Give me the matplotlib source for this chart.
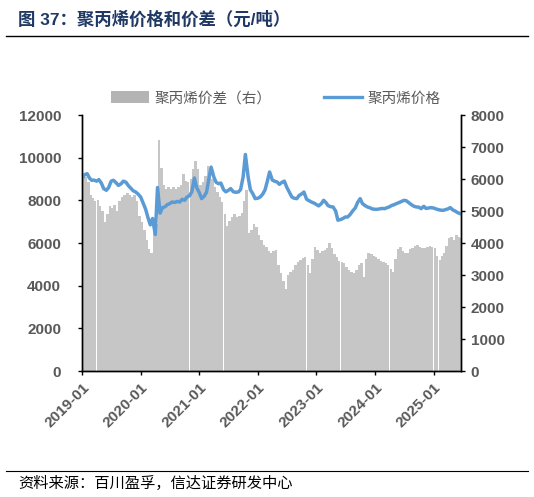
import numpy as np
import pandas as pd
import matplotlib
matplotlib.use('Agg')
import matplotlib.pyplot as plt
from matplotlib.patches import Patch
from matplotlib.lines import Line2D

plt.rcParams['font.family'] = ['Liberation Sans', 'Noto Sans CJK SC', 'DejaVu Sans']
plt.rcParams['axes.unicode_minus'] = False

# semi-monthly samples, 2019-01 .. 2025-06
dates = pd.date_range('2019-01-01', periods=156, freq='SMS')

# 聚丙烯价格 (left axis, 元/吨)
price = [
    9020, 9200, 9250, 9050, 8940, 8950, 8900, 8970, 8800, 8550, 8470, 8600,
    8900, 8940, 8820, 8700, 8780, 8900, 8850, 8700, 8560, 8450, 8390, 8300,
    8155, 7900, 7580, 7200, 6850, 7150, 6400, 8600, 7400, 7650, 7700, 7800,
    7850, 7920, 7900, 7950, 7920, 8050, 8000, 8150, 8220, 8400, 9050, 8600,
    8350, 8080, 8200, 8390, 9000, 9560, 9100, 8850, 8780, 8810, 8500, 8400,
    8470, 8550, 8400, 8380, 8390, 8500, 9100, 10150, 9100, 8500, 8300, 8080,
    8100, 8155, 8300, 8500, 8900, 9330, 8950, 8900, 8860, 8750, 8850, 8900,
    8600, 8400, 8155, 8100, 8080, 8230, 8300, 8390, 8050, 7990, 7920, 7880,
    7800, 7740, 7850, 8000, 7900, 7750, 7700, 7690, 7500, 7070, 7100, 7150,
    7220, 7220, 7350, 7500, 7650, 7900, 8080, 7850, 7750, 7690, 7650, 7600,
    7580, 7580, 7600, 7620, 7610, 7650, 7700, 7760, 7800, 7850, 7900, 7950,
    8000, 7980, 7880, 7800, 7720, 7690, 7680, 7610, 7720, 7620, 7640, 7660,
    7640, 7600, 7560, 7540, 7530, 7560, 7600, 7660, 7550, 7500, 7420, 7380,
]

# 聚丙烯价差 (right axis, 元/吨)
spread = [
    6000, 6050, 5900, 5500, 5400, 5300, 5350, 5150, 5000, 4650, 4900, 5150,
    5100, 5200, 5000, 5300, 5450, 5500, 5550, 5500, 5450, 5500, 5300, 4850,
    4650, 4400, 4100, 3800, 3700, 4500, 4600, 7220, 6350, 5800, 5700, 5750,
    5700, 5750, 5700, 5750, 5800, 6150, 5950, 5900, 6000, 6300, 6550, 6300,
    5800, 5900, 6100, 6400, 6100, 6000, 5750, 5600, 5450, 5290, 4900, 4520,
    4700, 4800, 4900, 4800, 4850, 4950, 5300, 5650, 4300, 4400, 4600, 4500,
    4250, 4080, 3950, 3880, 3750, 3680, 3750, 3780, 3300, 3050, 2800, 2550,
    3000, 3100, 3160, 3300, 3400, 3470, 3520, 3570, 3300, 3050, 3500, 3880,
    3780, 3680, 3750, 3780, 3850, 3990, 3850, 3650, 3570, 3450, 3400, 3360,
    3250, 3150, 3100, 3050, 3150, 3300, 3360, 2950, 3500, 3680, 3650, 3600,
    3570, 3500, 3450, 3400, 3360, 3300, 3200, 3100, 3500, 3800, 3880, 3750,
    3700, 3680, 3800, 3850, 3900, 3940, 3880, 3830, 3850, 3880, 3900, 3880,
    3850, 3600, 3470, 3600, 3700, 3900, 4150, 4200, 4100, 4250, 4200, 4150,
]

tick_dates = pd.date_range('2019-01-01', '2025-01-01', freq='YS')
tick_labels = [d.strftime('%Y-%m') for d in tick_dates]

navy = '#1f3864'
grey_txt = '#595959'
bar_col = '#c6c6c6'
line_col = '#5b9bd5'

fig = plt.figure(figsize=(5.34, 4.97), dpi=100)
ax = fig.add_axes([0.1536, 0.2535, 0.7094, 0.5151])
ax2 = ax.twinx()

ax2.bar(dates, spread, width=16, align='edge', color=bar_col, linewidth=0)
ax.plot(dates, price, color=line_col, linewidth=2.5, solid_joinstyle='round')

# line above bars
ax.set_zorder(ax2.get_zorder() + 1)
ax.patch.set_visible(False)

ax.set_ylim(0, 12000)
ax.set_yticks(np.arange(0, 12001, 2000))
ax2.set_ylim(0, 8000)
ax2.set_yticks(np.arange(0, 8001, 1000))
ax.set_xlim(pd.Timestamp('2018-12-31'), pd.Timestamp('2025-06-20'))
ax.set_xticks(tick_dates)
ax.set_xticklabels(tick_labels, rotation=45, ha='right', rotation_mode='anchor')

for a in (ax, ax2):
    a.spines['top'].set_visible(False)
    for s in ('left', 'right', 'bottom'):
        a.spines[s].set_color('black')
        a.spines[s].set_linewidth(1.0)
    a.tick_params(axis='both', direction='out', length=3, width=1, colors='black',
                  labelcolor=grey_txt, labelsize=11)
    for lb in a.get_yticklabels() + a.get_xticklabels():
        lb.set_fontweight('bold')
ax.tick_params(axis='y', pad=12)
ax.tick_params(axis='x', pad=4)
ax2.tick_params(axis='y', pad=4)

handles = [Patch(facecolor='#b4b4b4', edgecolor='none'),
           Line2D([0], [0], color=line_col, linewidth=2.4)]
fig.legend(handles, ['聚丙烯价差（右）', '聚丙烯价格'], loc='center',
           bbox_to_anchor=(0.517, 0.802), ncol=2, frameon=False, fontsize=10.5,
           labelcolor=grey_txt, handlelength=2.6, handleheight=0.9,
           columnspacing=3.6, handletextpad=0.4)

fig.text(0.034, 0.962, '图 37：聚丙烯价格和价差（元/吨）', color=navy,
         fontsize=12.5, fontweight='bold', va='center', ha='left')
fig.add_artist(Line2D([0.011, 0.989], [0.927, 0.927], color='black', linewidth=1.0))
fig.add_artist(Line2D([0.011, 0.989], [0.053, 0.053], color='black', linewidth=0.8))
fig.text(0.034, 0.028, '资料来源：百川盈孚，信达证券研发中心', color='black',
         fontsize=11, style='italic', va='center', ha='left')

fig.savefig('out.png', dpi=100)
